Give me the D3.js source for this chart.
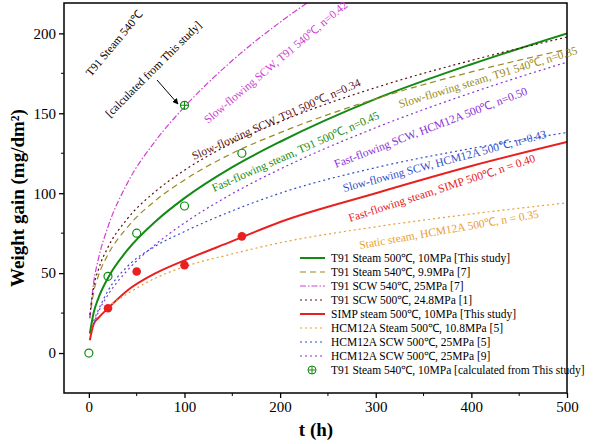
<!DOCTYPE html>
<html><head><meta charset="utf-8">
<script src="https://d3js.org/d3.v7.min.js"></script>
<style>
body{margin:0;background:#fff}
text{font-family:"Liberation Serif","Times New Roman",serif}
</style></head>
<body><svg id="c" width="600" height="444"></svg>
<script>
// time grid (h) and values (mg/dm2); null = curve not drawn there
var times = [1,5,10,20,40,70,100,150,200,300,400,500];
var t91Steam500 = [12.2,25.2,34.4,47.0,64.2,82.5,96.9,116.3,132.2,159.0,180.7,200.0];
var t91Steam540 = [21.6,38.0,48.4,61.6,78.5,95.6,108.3,125.0,137.9,159.1,175.9,190.1];
var t91Scw540 = [22,44,59,79,106,133,154,183,207,245,272,295];
var t91Scw500 = [23.9,41.3,52.3,66.2,83.8,101.3,114.4,131.4,144.8,166.1,183.1,197.7];
var simpSteam500 = [8,18,22,28,39,50,58,70,82,100,117,132];
var hcmSteam500 = [null,null,null,29,37,47,54,62,69,79,87,94];
var hcmScw500a = [null,20,27,39,54,67,76,89,100,116,128,138];
var hcmScw500b = [null,18.2,25.7,36.4,51.5,68.1,81.4,99.7,115.1,141.0,162.8,182.0];
var greenPtsT = [0,20,50,100,160], greenPtsY = [0,48,75,92,125];
var redPtsT = [20,50,100,160], redPtsY = [28,51,55,73];
var calcPt = [100,155];
var xTicks = [0,100,200,300,400,500], yTicks = [0,50,100,150,200];

var series = [
  {name:"T91 Steam 500\u2103, 10MPa [This study]", v:t91Steam500, c:"#138a13", w:2, d:null},
  {name:"T91 Steam 540\u2103, 9.9MPa [7]", v:t91Steam540, c:"#9a8a22", w:1.2, d:"6,4"},
  {name:"T91 SCW 540\u2103, 25MPa  [7]", v:t91Scw540, c:"#d040d0", w:1.2, d:"6,2,1.5,2"},
  {name:"T91 SCW 500\u2103, 24.8MPa [1]", v:t91Scw500, c:"#5a1010", w:1.2, d:"2,3"},
  {name:"SIMP steam 500\u2103, 10MPa  [This study]", v:simpSteam500, c:"#e82020", w:2, d:null},
  {name:"HCM12A Steam 500\u2103, 10.8MPa [5]", v:hcmSteam500, c:"#e8a030", w:1.2, d:"2,3"},
  {name:"HCM12A SCW 500\u2103, 25MPa [5]", v:hcmScw500a, c:"#3050c8", w:1.2, d:"2,3"},
  {name:"HCM12A SCW 500\u2103, 25MPa [9]", v:hcmScw500b, c:"#8a30d8", w:1.2, d:"2,3"}
];

var svg = d3.select("#c");
var L=64,R=567,T=3,B=393;
var x = d3.scaleLinear().domain([-26,500]).range([L,R]);
var y = d3.scaleLinear().domain([-25,219]).range([B,T]);

svg.append("clipPath").attr("id","cp").append("rect").attr("x",L).attr("y",T).attr("width",R-L).attr("height",B-T);
var g = svg.append("g").attr("clip-path","url(#cp)");
var line = d3.line().defined(function(d){return d[1]!=null;}).x(function(d){return x(d[0]);}).y(function(d){return y(d[1]);}).curve(d3.curveMonotoneX);
series.forEach(function(s){
  g.append("path").attr("d", line(times.map(function(t,i){return [t,s.v[i]];})))
   .attr("fill","none").attr("stroke",s.c).attr("stroke-width",s.w).attr("stroke-dasharray",s.d);
});

// frame and axes
svg.append("rect").attr("x",L).attr("y",T).attr("width",R-L).attr("height",B-T).attr("fill","none").attr("stroke","#000").attr("stroke-width",1.5);
var xa = svg.append("g").attr("transform","translate(0,"+B+")").call(d3.axisBottom(x).tickValues(xTicks).tickSize(5));
var ya = svg.append("g").attr("transform","translate("+L+",0)").call(d3.axisLeft(y).tickValues(yTicks).tickSize(5));
[xa,ya].forEach(function(a){a.select(".domain").remove();a.selectAll("text").attr("font-size",15).style("font-family","Liberation Serif");a.selectAll("line").attr("stroke-width",1.3);});
// minor ticks
svg.selectAll(".mx").data([50,150,250,350,450]).enter().append("line").attr("x1",x).attr("x2",x).attr("y1",B).attr("y2",B+3).attr("stroke","#000");
svg.selectAll(".my").data([25,75,125,175]).enter().append("line").attr("y1",y).attr("y2",y).attr("x1",L).attr("x2",L-3).attr("stroke","#000");

svg.append("text").attr("x",316).attr("y",436).attr("text-anchor","middle").attr("font-size",19).attr("font-weight","bold").text("t (h)");
svg.append("text").attr("transform","translate(24,198) rotate(-90)").attr("text-anchor","middle").attr("font-size",19).attr("font-weight","bold").text("Weight gain (mg/dm\u00b2)");

// points
svg.selectAll(".gp").data(greenPtsT).enter().append("circle").attr("cx",function(d){return x(d);}).attr("cy",function(d,i){return y(greenPtsY[i]);}).attr("r",4).attr("fill","none").attr("stroke","#138a13").attr("stroke-width",1.2);
svg.selectAll(".rp").data(redPtsT).enter().append("circle").attr("cx",function(d){return x(d);}).attr("cy",function(d,i){return y(redPtsY[i]);}).attr("r",4.3).attr("fill","#e82020");
function crossCirc(cx,cy){
  svg.append("circle").attr("cx",cx).attr("cy",cy).attr("r",4).attr("fill","none").attr("stroke","#138a13").attr("stroke-width",1.2);
  svg.append("path").attr("d","M"+(cx-4)+","+cy+"H"+(cx+4)+"M"+cx+","+(cy-4)+"V"+(cy+4)).attr("stroke","#138a13").attr("stroke-width",1);
}
crossCirc(x(calcPt[0]),y(calcPt[1]));

// curve labels
var labels = [
  ["Slow-flowing SCW, T91 540\u2103, n=0.42",208,124,-40,"#d040d0"],
  ["Slow-flowing SCW, T91 500\u2103, n=0.34",194,160,-24,"#5a1010"],
  ["Fast-flowing steam, T91 500\u2103, n=0.45",214,192,-24,"#138a13"],
  ["Slow-flowing steam, T91 540\u2103, n=0.35",400,108,-17,"#9a8a22"],
  ["Fast-flowing SCW, HCM12A 500\u2103, n=0.50",336,168,-21,"#8a30d8"],
  ["Slow-flowing SCW, HCM12A 500\u2103, n=0.43",344,192,-15,"#3050c8"],
  ["Fast-flowing steam, SIMP 500\u2103, n = 0.40",350,222,-18,"#e82020"],
  ["Static steam, HCM12A 500\u2103, n = 0.35",360,249,-10,"#e8a030"],
  ["T91 Steam 540\u2103",91,77,-50,"#000"],
  ["[calculated from This study]",110,118,-45,"#000"]
];
labels.forEach(function(l){
  svg.append("text").attr("transform","translate("+l[1]+","+l[2]+") rotate("+l[3]+")").attr("font-size",11.5).attr("fill",l[4]).text(l[0]);
});
svg.append("defs").append("marker").attr("id","ar").attr("viewBox","0 0 10 10").attr("refX",9).attr("refY",5).attr("markerWidth",6).attr("markerHeight",6).attr("orient","auto")
  .append("path").attr("d","M0,0L10,5L0,10z").attr("fill","#000");
svg.append("line").attr("x1",157).attr("y1",80).attr("x2",178).attr("y2",104).attr("stroke","#000").attr("marker-end","url(#ar)");

// legend
var lg = svg.append("g").attr("transform","translate(300,258)");
series.forEach(function(s,i){
  var yy=i*14;
  lg.append("line").attr("x1",0).attr("x2",25).attr("y1",yy).attr("y2",yy).attr("stroke",s.c).attr("stroke-width",s.w).attr("stroke-dasharray",s.d);
  lg.append("text").attr("x",31).attr("y",yy+4).attr("font-size",11.5).text(s.name);
});
var ly=8*14;
lg.append("circle").attr("cx",12).attr("cy",ly).attr("r",4).attr("fill","none").attr("stroke","#138a13");
lg.append("path").attr("d","M8,"+ly+"H16M12,"+(ly-4)+"V"+(ly+4)).attr("stroke","#138a13");
lg.append("text").attr("x",31).attr("y",ly+4).attr("font-size",11.5).text("T91 Steam 540\u2103, 10MPa [calculated from This study]");
</script></body></html>
